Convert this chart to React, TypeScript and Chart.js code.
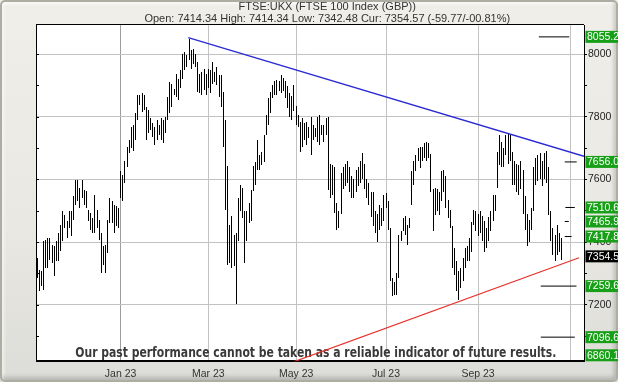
import React, { useEffect, useRef } from "react";
import { Chart, registerables } from "chart.js";

Chart.register(...registerables);

const TITLE = "FTSE:UKX (FTSE 100 Index (GBP))";
const SUBTITLE = "Open: 7414.34 High: 7414.34 Low: 7342.48 Cur: 7354.57 (-59.77/-00.81%)";
const DISCLAIMER = "Our past performance cannot be taken as a reliable indicator of future results.";

// trading-day index of first bar (0 = first trading day of Jan 2023)
const firstBarIndex = -39;

const barLows = [
  // Nov/Dec 2022
  7285, 7243, 7260, 7247, 7317, 7317, 7344, 7333, 7292, 7340,
  7340, 7372, 7404, 7445, 7413, 7445, 7419, 7471, 7519, 7531,
  7509, 7541, 7519, 7509, 7467, 7440, 7429, 7429, 7445, 7408,
  7301, 7328, 7301, 7365, 7461, 7461, 7429, 7451, 7445,
  // 2023
  7541, 7531, 7590, 7640, 7684, 7700, 7690, 7726, 7790, 7837,
  7816, 7821, 7726, 7747, 7758, 7736, 7710, 7726, 7742, 7726,
  7715, 7747, 7790, 7811, 7832, 7869, 7864, 7853, 7891, 7922,
  7949, 7960, 7981, 7954, 7970, 7960, 7880, 7875, 7869, 7885,
  7869, 7891, 7875, 7906, 7912, 7901, 7864, 7830, 7704, 7503,
  7328, 7333, 7317, 7323, 7202, 7402, 7498, 7477, 7333, 7402,
  7461, 7466, 7562, 7583, 7631, 7631, 7647, 7657, 7743, 7775,
  7812, 7860, 7870, 7870, 7881, 7876, 7881, 7860, 7828, 7800,
  7790, 7817, 7775, 7769, 7689, 7705, 7727, 7711, 7732, 7679,
  7727, 7737, 7721, 7711, 7743, 7721, 7743, 7567, 7540, 7551,
  7493, 7440, 7445, 7490, 7570, 7580, 7590, 7560, 7540, 7540,
  7560, 7580, 7590, 7600, 7570, 7540, 7520, 7480, 7450, 7430,
  7400, 7440, 7450, 7466, 7509, 7440, 7275, 7227, 7232, 7232,
  7285, 7402, 7434, 7424, 7392, 7445, 7519, 7583, 7626, 7658,
  7636, 7658, 7668, 7658, 7668, 7560, 7434, 7487, 7500, 7487,
  7530, 7560, 7510, 7477, 7445, 7317, 7296, 7243, 7216, 7253,
  7275, 7317, 7339, 7339, 7370, 7456, 7434, 7420, 7430, 7402,
  7370, 7381, 7402, 7434, 7466, 7498, 7572, 7647, 7641, 7640,
  7679, 7650, 7658, 7583, 7583, 7560, 7551, 7570, 7490, 7440,
  7386, 7400, 7440, 7500, 7583, 7594, 7600, 7580, 7600, 7590,
  7487, 7402, 7360, 7339, 7360, 7370, 7342.48,
];

const barHighs = [
  // Nov/Dec 2022
  7349, 7312, 7308, 7404, 7408, 7413, 7413, 7392, 7388, 7404,
  7429, 7456, 7500, 7487, 7467, 7500, 7500, 7547, 7599, 7599,
  7573, 7599, 7567, 7563, 7503, 7493, 7477, 7551, 7503, 7471,
  7429, 7388, 7392, 7471, 7541, 7531, 7519, 7515, 7509,
  // 2023
  7627, 7615, 7659, 7704, 7727, 7768, 7773, 7811, 7869, 7869,
  7875, 7869, 7832, 7821, 7795, 7779, 7768, 7790, 7774, 7795,
  7790, 7800, 7864, 7912, 7906, 7890, 7938, 7922, 7949, 8002,
  8007, 7997, 8050, 8013, 8018, 8002, 7976, 7938, 7944, 7954,
  7938, 7954, 7949, 7976, 7944, 7960, 7933, 7933, 7880, 7790,
  7642, 7456, 7482, 7424, 7429, 7540, 7583, 7573, 7498, 7498,
  7525, 7567, 7642, 7657, 7727, 7679, 7689, 7743, 7806, 7860,
  7880, 7902, 7913, 7918, 7913, 7934, 7923, 7915, 7897, 7875,
  7865, 7902, 7833, 7806, 7785, 7796, 7780, 7785, 7769, 7801,
  7775, 7764, 7801, 7806, 7775, 7775, 7796, 7801, 7650, 7647,
  7640, 7525, 7500, 7620, 7640, 7650, 7660, 7640, 7610, 7600,
  7630, 7640, 7660, 7685, 7650, 7600, 7590, 7560, 7560, 7500,
  7490, 7520, 7510, 7551, 7557, 7530, 7445, 7285, 7274, 7301,
  7424, 7434, 7477, 7482, 7456, 7477, 7626, 7658, 7679, 7700,
  7705, 7705, 7716, 7721, 7716, 7680, 7570, 7572, 7570, 7560,
  7626, 7630, 7610, 7535, 7503, 7450, 7380, 7340, 7307, 7317,
  7349, 7381, 7386, 7413, 7465, 7503, 7498, 7490, 7500, 7482,
  7466, 7445, 7480, 7500, 7551, 7551, 7689, 7743, 7721, 7700,
  7743, 7748, 7743, 7689, 7658, 7650, 7647, 7660, 7631, 7546,
  7490, 7470, 7510, 7640, 7668, 7679, 7684, 7660, 7684, 7690,
  7640, 7498, 7445, 7424, 7456, 7429, 7414.34,
];

const monthTickIndex = [0, 41, 82, 124, 167, 210];
const monthTickLabels = ["Jan 23", "Mar 23", "May 23", "Jul 23", "Sep 23", ""];
const xRange = [-39.3, 216.5];

const priceTicks = [7100, 7200, 7300, 7400, 7500, 7600, 7700, 7800, 7900, 8000];
const priceRange = [7019.5, 8092.5];

const resistanceX = [31.6, 216.5];
const resistanceY = [8053, 7674];
const supportX = [80.5, 214.2];
const supportY = [7017, 7350];

const levelValues = [8055.2, 7656.0, 7510.6, 7465.9, 7417.8, 7259.6, 7096.6, 6860.1];
const levelFromX = [195.4, 207.5, 207.8, 207.5, 207.5, 196.3, 196.3, 196.3];
const levelToX = [209.6, 213.1, 212.2, 209.4, 210.7, 213.0, 212.2, 212.2];
const currentValue = 7354.57;

const FONT = '"Liberation Sans", Arial, sans-serif';

export default function App() {
  const canvasRef = useRef<HTMLCanvasElement | null>(null);

  useEffect(() => {
    document.body.style.margin = "0";
    const canvas = canvasRef.current;
    if (!canvas) return;

    const bars = barLows.map((lo, k) => ({ x: firstBarIndex + k, y: [lo, barHighs[k]] }));

    const levelSets = levelValues.map((v, k) => ({
      type: "line" as const,
      data: [
        { x: levelFromX[k], y: v },
        { x: levelToX[k], y: v },
      ],
      borderColor: "#000",
      borderWidth: 1,
      pointRadius: 0,
    }));

    const decor = {
      id: "decor",
      beforeDraw(chart: any) {
        const { ctx, chartArea: a } = chart;
        ctx.save();
        ctx.fillStyle = "#ffffff";
        ctx.fillRect(a.left, a.top, a.right - a.left, a.bottom - a.top);
        ctx.restore();
      },
      beforeDatasetsDraw(chart: any) {
        const { ctx, chartArea: a } = chart;
        ctx.save();
        ctx.font = 'bold 14.5px "Liberation Sans Narrow", "DejaVu Sans Condensed", "Liberation Sans", sans-serif';
        const w = ctx.measureText(DISCLAIMER).width;
        const target = 481;
        ctx.translate(315.8, a.bottom - 4.6);
        ctx.scale(target / w, 1);
        ctx.textAlign = "center";
        ctx.textBaseline = "alphabetic";
        ctx.fillStyle = "#3a3a3a";
        ctx.fillText(DISCLAIMER, 0, 0);
        ctx.restore();
      },
      beforeDatasetDraw(chart: any, args: any) {
        // snap price bars to whole pixels so they render as crisp 1px strokes
        if (args.meta.type !== "bar") return;
        args.meta.data.forEach((el: any) => {
          el.x = Math.floor(el.x) + 0.5;
          el.width = 1;
          el.y = Math.round(el.y);
          el.base = Math.round(el.base);
        });
      },
      afterDraw(chart: any) {
        const { ctx, chartArea: a } = chart;
        const ys = chart.scales.y;
        ctx.save();
        ctx.fillStyle = "#000";
        const L = Math.round(a.left) - 1;
        const T = Math.round(a.top) - 1;
        ctx.fillRect(L, T, Math.round(a.right) - L, 1);
        ctx.fillRect(L, T, 1, Math.round(a.bottom) - T);
        priceTicks.forEach((v) => {
          const y = Math.round(ys.getPixelForValue(v));
          ctx.fillRect(L, y, 3, 1);
        });
        ctx.font = `10.5px ${FONT}`;
        ctx.textBaseline = "middle";
        ctx.textAlign = "left";
        const drawBox = (v: number, bg: string, txt: string) => {
          let y = ys.getPixelForValue(v);
          y = Math.min(Math.max(y, a.top + 6), a.bottom - 6);
          ctx.fillStyle = bg;
          ctx.fillRect(a.right + 1.5, y - 6, 40, 12);
          ctx.fillStyle = "#ffffff";
          ctx.fillText(txt, a.right + 3, y + 0.5);
        };
        levelValues.forEach((v) => drawBox(v, "#17a017", v.toFixed(1)));
        drawBox(currentValue, "#000000", currentValue.toFixed(2));
        ctx.restore();
      },
    };

    const chart = new Chart(canvas, {
      type: "bar",
      data: {
        datasets: [
          ...levelSets,
          {
            type: "line",
            data: [
              { x: resistanceX[0], y: resistanceY[0] },
              { x: resistanceX[1], y: resistanceY[1] },
            ],
            borderColor: "#2a2ad6",
            borderWidth: 1.3,
            pointRadius: 0,
          },
          {
            type: "line",
            data: [
              { x: supportX[0], y: supportY[0] },
              { x: supportX[1], y: supportY[1] },
            ],
            borderColor: "#e8302a",
            borderWidth: 1.2,
            pointRadius: 0,
          },
          {
            type: "bar",
            data: bars as any,
            backgroundColor: "#000000",
            borderWidth: 0,
            barThickness: 1,
            inflateAmount: 0,
            grouped: false,
          },
        ] as any,
      },
      options: {
        responsive: false,
        animation: false,
        events: [],
        layout: { padding: { left: 36.5, right: 0, top: 0, bottom: 0 } },
        plugins: {
          legend: { display: false },
          tooltip: { enabled: false },
          title: {
            display: true,
            text: TITLE,
            color: "#333",
            font: { family: FONT, size: 11, weight: "normal", lineHeight: 1.1 },
            padding: { top: 1, bottom: 0 },
          },
          subtitle: {
            display: true,
            text: SUBTITLE,
            color: "#333",
            font: { family: FONT, size: 11, weight: "normal", lineHeight: 1.1 },
            padding: { top: 0, bottom: 0 },
          },
        },
        scales: {
          x: {
            type: "linear",
            min: xRange[0],
            max: xRange[1],
            offset: false,
            afterBuildTicks: (s: any) => {
              s.ticks = monthTickIndex.map((v) => ({ value: v }));
            },
            afterFit: (s: any) => {
              s.height = 20.7;
            },
            ticks: {
              autoSkip: false,
              maxRotation: 0,
              padding: 7,
              color: "#333",
              font: { family: FONT, size: 10.5 },
              callback: (_v: any, i: number) => monthTickLabels[i] ?? "",
            },
            grid: {
              offset: false,
              drawTicks: false,
              color: (c: any) => (c.index === 0 ? "#9c9c9c" : "#c2c2c2"),
            },
            border: { display: true, color: "#000", width: 2 },
          },
          y: {
            type: "linear",
            position: "right",
            min: priceRange[0],
            max: priceRange[1],
            afterBuildTicks: (s: any) => {
              s.ticks = priceTicks.map((v) => ({ value: v }));
            },
            afterFit: (s: any) => {
              s.width = 34;
            },
            ticks: {
              padding: 1,
              color: "#222",
              font: { family: FONT, size: 10.5 },
              callback: (v: any) => (Number(v) % 200 === 0 ? String(v) : ""),
            },
            grid: {
              tickLength: 3,
              tickColor: "#000",
              color: (c: any) =>
                c.tick && c.tick.value % 200 === 0 ? "#c2c2c2" : "rgba(0,0,0,0)",
            },
            border: { display: true, color: "#000", width: 1 },
          },
        },
      } as any,
      plugins: [decor],
    });

    return () => chart.destroy();
  }, []);

  return (
    <div
      style={{
        position: "relative",
        width: 618,
        height: 382,
        overflow: "hidden",
        background: "linear-gradient(to bottom, #efeee9 0%, #e9e8e3 60%, #dcdcd8 100%)",
      }}
    >
      <div
        style={{
          position: "absolute",
          left: 0,
          top: 0,
          width: 618,
          height: 382,
          boxSizing: "border-box",
          border: "2px solid #aeada2",
          borderRadius: 5,
          boxShadow: "inset -2px -3px 4px rgba(0,0,0,0.18), inset 2px 2px 3px rgba(255,255,255,0.7)",
        }}
      />
      <canvas
        ref={canvasRef}
        width={618}
        height={382}
        style={{ position: "absolute", left: 0, top: 0, width: 618, height: 382 }}
      />
    </div>
  );
}
